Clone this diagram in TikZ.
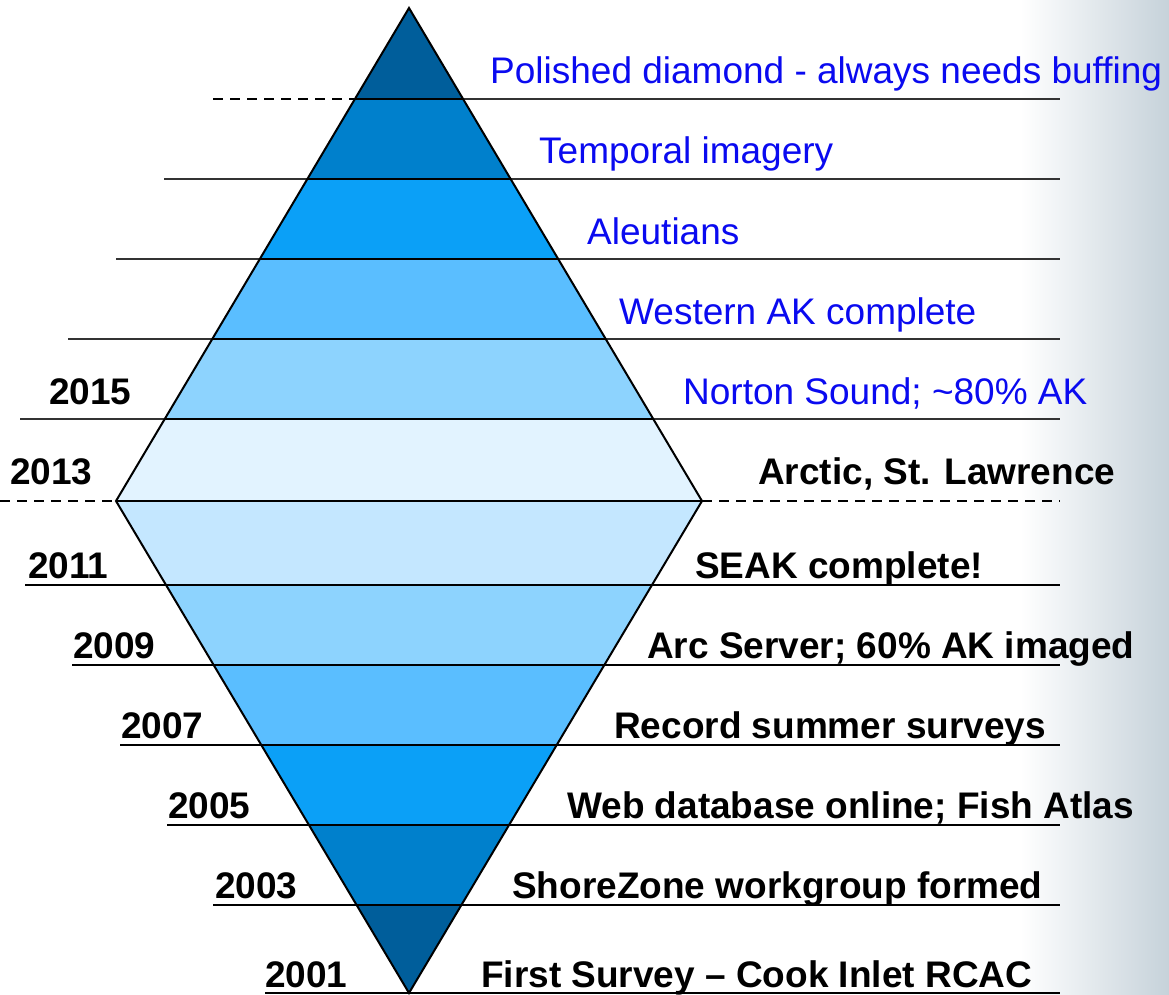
\documentclass[tikz,border=0pt]{standalone}
\usepackage{fontspec}
\setmainfont{Liberation Sans}
\definecolor{cA}{HTML}{005E9B}
\definecolor{cB}{HTML}{0080CC}
\definecolor{cC}{HTML}{0BA0F7}
\definecolor{cD}{HTML}{5ABEFF}
\definecolor{cE}{HTML}{8DD3FE}
\definecolor{cF}{HTML}{E2F3FF}
\definecolor{cG}{HTML}{C4E7FF}
\definecolor{edgegray}{HTML}{C6D2DA}
\definecolor{txtblue}{HTML}{0A0AF0}
\begin{document}
\begin{tikzpicture}[x=1pt,y=-1pt,
  bluelbl/.style={anchor=base west,inner sep=0pt,text=txtblue,font=\fontsize{37}{40}\selectfont},
  blacklbl/.style={anchor=base west,inner sep=0pt,text=black,font=\fontsize{37}{40}\selectfont\bfseries},
  thinline/.style={line width=1.2pt,draw=black!80},
  thickline/.style={line width=2.4pt,draw=black},
  dashline/.style={line width=2pt,draw=black,dash pattern=on 10pt off 7pt},
  bandedge/.style={line width=1.8pt,draw=black}]
\useasboundingbox (0,0) rectangle (1169,995);
\fill[white] (0,0) rectangle (1169,995);
\shade[left color=white,right color=edgegray] (1020,0) rectangle (1169,995);

% corner coordinates
\coordinate (top) at (409,8);
\coordinate (ml) at (116,501);
\coordinate (mr) at (702,501);
\coordinate (bot) at (409,993);

% bands
\fill[cA] (top) -- (463.1,99) -- (354.9,99) -- cycle;
\fill[cB] (354.9,99) -- (463.1,99) -- (510.6,179) -- (307.4,179) -- cycle;
\fill[cC] (307.4,179) -- (510.6,179) -- (558.2,259) -- (259.8,259) -- cycle;
\fill[cD] (259.8,259) -- (558.2,259) -- (605.7,339) -- (212.3,339) -- cycle;
\fill[cE] (212.3,339) -- (605.7,339) -- (653.3,419) -- (164.7,419) -- cycle;
\fill[cF] (164.7,419) -- (653.3,419) -- (mr) -- (ml) -- cycle;
\fill[cG] (ml) -- (mr) -- (652,585) -- (166,585) -- cycle;
\fill[cE] (166,585) -- (652,585) -- (604.3,665) -- (213.7,665) -- cycle;
\fill[cD] (213.7,665) -- (604.3,665) -- (556.7,745) -- (261.3,745) -- cycle;
\fill[cC] (261.3,745) -- (556.7,745) -- (509,825) -- (309,825) -- cycle;
\fill[cB] (309,825) -- (509,825) -- (461.4,905) -- (356.6,905) -- cycle;
\fill[cA] (356.6,905) -- (461.4,905) -- (bot) -- cycle;

% upper guide lines
\draw[dashline] (213,99) -- (354.9,99);
\draw[thinline] (463.1,99) -- (1060,99);
\draw[thinline] (164,179) -- (1060,179);
\draw[thinline] (116,259) -- (1060,259);
\draw[thinline] (68,339) -- (1060,339);
\draw[thinline] (20,419) -- (1060,419);
\draw[dashline] (0,501) -- (ml);
\draw[dashline] (mr) -- (1060,501);

% lower guide lines
\draw[thickline] (25,585) -- (1060,585);
\draw[thickline] (72,665) -- (1060,665);
\draw[thickline] (120,745) -- (1060,745);
\draw[thickline] (167,825) -- (1060,825);
\draw[thickline] (213,905) -- (1060,905);
\draw[thickline] (265,993) -- (1060,993);

% band edges inside diamond
\draw[bandedge] (354.9,99) -- (463.1,99);
\draw[bandedge] (307.4,179) -- (510.6,179);
\draw[bandedge] (259.8,259) -- (558.2,259);
\draw[bandedge] (212.3,339) -- (605.7,339);
\draw[bandedge] (164.7,419) -- (653.3,419);
\draw[bandedge] (ml) -- (mr);
\draw[bandedge] (166,585) -- (652,585);
\draw[bandedge] (213.7,665) -- (604.3,665);
\draw[bandedge] (261.3,745) -- (556.7,745);
\draw[bandedge] (309,825) -- (509,825);
\draw[bandedge] (356.6,905) -- (461.4,905);

% diamond outline
\draw[line width=2pt,line join=miter] (top) -- (mr) -- (bot) -- (ml) -- cycle;

% blue labels
\node[bluelbl] (t1) at (490,84) {Polished diamond - always needs buffing};
\node[bluelbl] (t2) at (539,164) {Temporal imagery};
\node[bluelbl] (t3) at (587,244) {Aleutians};
\node[bluelbl] (t4) at (619,324) {Western AK complete};
\node[bluelbl] (t5) at (683,404) {Norton Sound; \textasciitilde80\% AK};

% black labels
\node[blacklbl] (y15) at (49,404) {2015};
\node[blacklbl] (y13) at (10,484) {2013};
\node[blacklbl] (e13) at (758,484) {Arctic, St. Lawrence};
\node[blacklbl] (y11) at (28,578) {2011};
\node[blacklbl] (e11) at (695,578) {SEAK complete!};
\node[blacklbl] (y09) at (73,658) {2009};
\node[blacklbl] (e09) at (647,658) {Arc Server; 60\% AK imaged};
\node[blacklbl] (y07) at (121,738) {2007};
\node[blacklbl] (e07) at (614,738) {Record summer surveys};
\node[blacklbl] (y05) at (168,818) {2005};
\node[blacklbl] (e05) at (567,818) {Web database online; Fish Atlas};
\node[blacklbl] (y03) at (215,898) {2003};
\node[blacklbl] (e03) at (512,898) {ShoreZone workgroup formed};
\node[blacklbl] (y01) at (265,987) {2001};
\node[blacklbl] (e01) at (481,987) {First Survey – Cook Inlet RCAC};
\end{tikzpicture}
\end{document}
